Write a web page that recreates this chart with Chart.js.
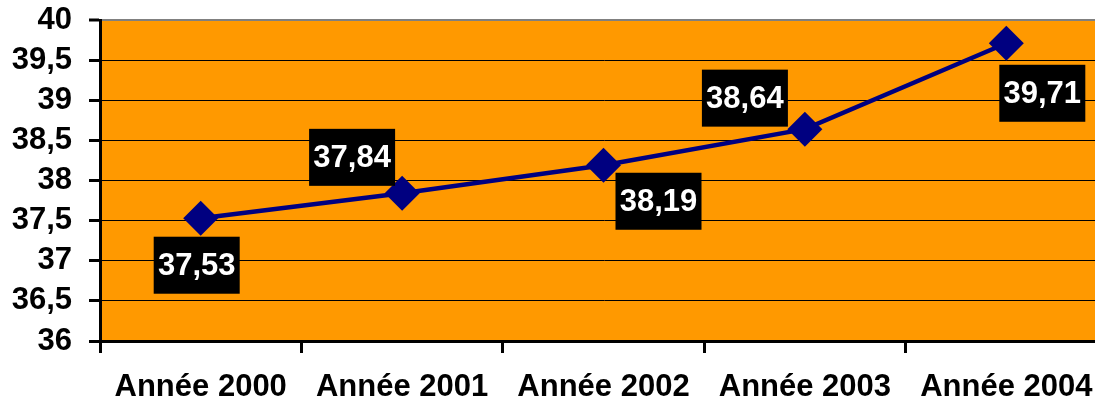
<!DOCTYPE html>
<html>
<head>
<meta charset="utf-8">
<script src="https://cdn.jsdelivr.net/npm/chart.js@4/dist/chart.umd.min.js"></script>
<style>
  html, body { margin: 0; padding: 0; background: #fff; overflow: hidden; }
  #wrap { width: 1110px; height: 401px; }
</style>
</head>
<body>
<div id="wrap"><canvas id="ageChart" width="1110" height="401"></canvas></div>
<script>
// données
const categories = ['Année 2000', 'Année 2001', 'Année 2002', 'Année 2003', 'Année 2004'];
const ages = [37.53, 37.84, 38.19, 38.64, 39.71];
const yTicks = [36, 36.5, 37, 37.5, 38, 38.5, 39, 39.5, 40];

const fmt = v => String(v).replace('.', ',');
const FONT = '"Liberation Sans", Arial, sans-serif';

// fond orange de la zone de tracé
const plotBg = {
  id: 'plotBg',
  beforeDraw(chart) {
    const { ctx, chartArea: a } = chart;
    ctx.save();
    ctx.fillStyle = '#FF9900';
    ctx.fillRect(a.left, a.top, a.right - a.left, a.bottom - a.top);
    ctx.restore();
  }
};

// étiquettes noires avec texte blanc
const boxLabels = {
  id: 'boxLabels',
  afterDatasetsDraw(chart, args, opts) {
    const { ctx } = chart;
    const meta = chart.getDatasetMeta(0);
    ctx.save();
    ctx.font = 'bold 31px ' + FONT;
    ctx.textAlign = 'center';
    ctx.textBaseline = 'middle';
    meta.data.forEach((pt, i) => {
      const [dx, dy] = opts.offsets[i];
      const cx = pt.x + dx, cy = pt.y + dy;
      ctx.fillStyle = '#000';
      ctx.fillRect(cx - 43, cy - 28.5, 86, 57);
      ctx.fillStyle = '#fff';
      ctx.fillText(fmt(ages[i]), cx, cy + 1);
    });
    ctx.restore();
  }
};

const noPad = scale => {
  scale.paddingTop = 0; scale.paddingBottom = 0;
  scale.paddingLeft = 0; scale.paddingRight = 0;
};

const ctx = document.getElementById('ageChart').getContext('2d');
new Chart(ctx, {
  type: 'line',
  data: {
    labels: categories,
    datasets: [{
      data: ages,
      borderColor: '#000080',
      borderWidth: 4.5,
      pointStyle: 'rectRot',
      pointRadius: 17.5,
      pointBackgroundColor: '#000080',
      pointBorderColor: '#000080',
      pointBorderWidth: 0,
      tension: 0,
      clip: false
    }]
  },
  options: {
    responsive: false,
    animation: false,
    layout: { autoPadding: false, padding: { top: 20, right: 3, left: 0, bottom: 0 } },
    plugins: {
      legend: { display: false },
      tooltip: { enabled: false },
      boxLabels: {
        offsets: [[-4, 47], [-50, -36], [55, 36], [-60, -31], [36, 50]]
      }
    },
    scales: {
      x: {
        offset: true,
        grid: {
          offset: true,
          drawOnChartArea: false,
          drawTicks: true,
          tickLength: 12,
          tickWidth: 3,
          tickColor: '#000'
        },
        border: { display: true, color: '#000', width: 3 },
        ticks: {
          color: '#000',
          padding: 16,
          maxRotation: 0,
          autoSkip: false,
          font: { family: FONT, size: 31, weight: 'bold' }
        },
        afterFit(scale) { scale.height = 60; noPad(scale); }
      },
      y: {
        min: 36,
        max: 40,
        afterBuildTicks(scale) { scale.ticks = yTicks.map(v => ({ value: v })); },
        grid: {
          color: c => (c.tick && c.tick.value === 40 ? '#808080' : '#000'),
          lineWidth: c => (c.tick && c.tick.value === 40 ? 2 : 1),
          tickLength: 11,
          tickWidth: 3,
          tickColor: '#000'
        },
        border: { display: true, color: '#000', width: 3 },
        ticks: {
          color: '#000',
          padding: 17,
          autoSkip: false,
          callback: v => fmt(v),
          font: { family: FONT, size: 31, weight: 'bold' }
        },
        afterFit(scale) { scale.width = 100; noPad(scale); }
      }
    }
  },
  plugins: [plotBg, boxLabels]
});
</script>
</body>
</html>
